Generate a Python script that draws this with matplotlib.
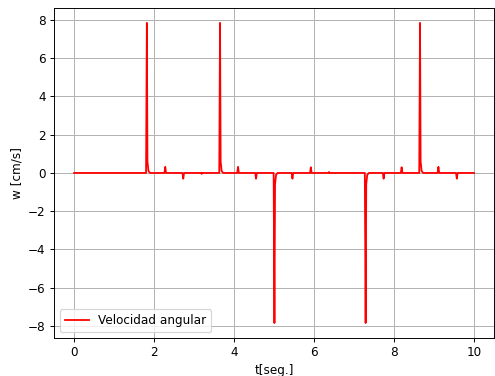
import matplotlib
matplotlib.use("Agg")
import matplotlib.pyplot as plt

# sampled angular velocity: flat at zero, sharp peaks at impacts
t = [0.0,
     1.80, 1.82, 1.835, 1.86, 1.90,
     2.26, 2.28, 2.30,
     2.71, 2.73, 2.75,
     3.18, 3.19, 3.20,
     3.63, 3.65, 3.665, 3.69, 3.73,
     4.08, 4.10, 4.12,
     4.53, 4.55, 4.57,
     4.99, 5.01, 5.025, 5.05, 5.09,
     5.44, 5.46, 5.48,
     5.90, 5.92, 5.94,
     6.36, 6.375, 6.39,
     7.27, 7.29, 7.305, 7.33, 7.37,
     7.72, 7.74, 7.76,
     8.17, 8.19, 8.21,
     8.63, 8.65, 8.665, 8.69, 8.73,
     9.09, 9.11, 9.13,
     9.55, 9.57, 9.59,
     10.0]
w = [0.0,
     0.0, 7.85, 0.6, 0.1, 0.0,
     0.0, 0.32, 0.0,
     0.0, -0.3, 0.0,
     0.0, -0.05, 0.0,
     0.0, 7.85, 0.6, 0.1, 0.0,
     0.0, 0.32, 0.0,
     0.0, -0.3, 0.0,
     0.0, -7.85, -0.6, -0.1, 0.0,
     0.0, -0.3, 0.0,
     0.0, 0.3, 0.0,
     0.0, 0.05, 0.0,
     0.0, -7.85, -0.6, -0.1, 0.0,
     0.0, -0.3, 0.0,
     0.0, 0.3, 0.0,
     0.0, 7.85, 0.6, 0.1, 0.0,
     0.0, 0.32, 0.0,
     0.0, -0.3, 0.0,
     0.0]

dpi = 86
fig, ax = plt.subplots(figsize=(496 / dpi, 376 / dpi), dpi=dpi)
fig.subplots_adjust(left=0.109, right=0.996, top=0.979, bottom=0.101)

ax.plot(t, w, color='red', linewidth=1.5, label='Velocidad angular')
ax.set_xlabel('t[seg.]')
ax.set_ylabel('w [cm/s]')
ax.grid(True)
ax.legend(loc='lower left')

fig.savefig('out.png', dpi=dpi)
